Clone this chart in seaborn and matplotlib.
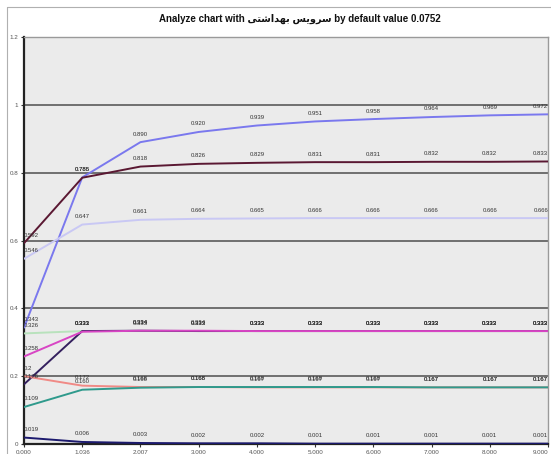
import matplotlib
matplotlib.use("Agg")
import matplotlib.pyplot as plt
import pandas as pd
import seaborn as sns

# x categories along the bottom axis
x_labels = ["0.000", "1.036", "2.007", "3.000", "4.000",
            "5.000", "6.000", "7.000", "8.000", "9.000"]

# series values
s_blue = [0.343, 0.786, 0.890, 0.920, 0.939, 0.951, 0.958, 0.964, 0.969, 0.972]
s_dark = [0.592, 0.785, 0.818, 0.826, 0.829, 0.831, 0.831, 0.832, 0.832, 0.833]
s_lav = [0.546, 0.647, 0.661, 0.664, 0.665, 0.666, 0.666, 0.666, 0.666, 0.666]
s_green = [0.326, 0.333, 0.333, 0.333, 0.333, 0.333, 0.333, 0.333, 0.333, 0.333]
s_purple = [0.176, 0.333, 0.334, 0.333, 0.333, 0.333, 0.333, 0.333, 0.333, 0.333]
s_pink = [0.258, 0.331, 0.334, 0.334, 0.333, 0.333, 0.333, 0.333, 0.333, 0.333]
s_salmon = [0.2, 0.172, 0.168, 0.168, 0.167, 0.167, 0.167, 0.167, 0.167, 0.167]
s_teal = [0.109, 0.160, 0.166, 0.168, 0.168, 0.168, 0.168, 0.167, 0.167, 0.167]
s_navy = [0.019, 0.006, 0.003, 0.002, 0.002, 0.001, 0.001, 0.001, 0.001, 0.001]

# drawing order: later ones end up on top
series = {
    "blue": s_blue, "dark": s_dark, "lav": s_lav, "green": s_green,
    "purple": s_purple, "pink": s_pink, "salmon": s_salmon,
    "teal": s_teal, "navy": s_navy,
}
colors = {
    "blue": "#7a78ee", "dark": "#5a1832", "lav": "#c9c8f4", "green": "#b8e2bc",
    "pink": "#d845c4", "purple": "#34205e", "salmon": "#f08a86",
    "teal": "#2f9a8c", "navy": "#1c1a6e",
}

rows = []
for name, vals in series.items():
    for i, v in enumerate(vals):
        rows.append({"x": i, "value": v, "series": name})
df = pd.DataFrame(rows)

sns.set_theme(style="white")
plt.rcParams["font.family"] = ["Liberation Sans", "DejaVu Sans"]

fig = plt.figure(figsize=(5.51, 4.54), dpi=100)
fig.patch.set_facecolor("white")
ax = fig.add_axes([24 / 551, 1 - 444 / 454, 524 / 551, 407 / 454])
ax.set_facecolor("#ebebeb")

# horizontal grid lines
for g in [0.2, 0.4, 0.6, 0.8, 1.0]:
    ax.axhline(g, color="#5a5a5a", lw=1.2, zorder=1)

sns.lineplot(data=df, x="x", y="value", hue="series", palette=colors,
             hue_order=list(series.keys()),
             linewidth=1.4, legend=False, ax=ax, zorder=3)

# data labels above each point
for name, vals in series.items():
    for i, v in enumerate(vals):
        ha = "left" if i == 0 else ("right" if i == len(vals) - 1 else "center")
        ax.annotate(f"{v:g}" if v == 0.2 else f"{v:.3f}", (i, v),
                    xytext=(0, 4), textcoords="offset points",
                    ha=ha, va="bottom", fontsize=4.3, color="#333333", zorder=4)

ax.set_xlim(0, 9)
ax.set_ylim(0, 1.2)
ax.set_xticks(range(len(x_labels)))
ax.set_xticklabels(x_labels)
ax.get_xticklabels()[-1].set_horizontalalignment("right")
ax.set_yticks([0, 0.2, 0.4, 0.6, 0.8, 1.0, 1.2])
ax.set_yticklabels(["0", "0.2", "0.4", "0.6", "0.8", "1", "1.2"])
ax.tick_params(axis="both", labelsize=4.5, labelcolor="#555555",
               length=2.5, width=0.8, color="#333333", pad=1.5,
               bottom=True, left=True)
ax.set_xlabel("")
ax.set_ylabel("")

for side in ["top", "right"]:
    ax.spines[side].set_color("#9a9a9a")
    ax.spines[side].set_linewidth(1.0)
for side in ["left", "bottom"]:
    ax.spines[side].set_color("#222222")
    ax.spines[side].set_linewidth(1.6)

# outer chart frame
fig.add_artist(plt.Line2D([7 / 551, 1], [1 - 7 / 454, 1 - 7 / 454],
                          transform=fig.transFigure, color="#b0b0b0", lw=0.8))
fig.add_artist(plt.Line2D([7 / 551, 7 / 551], [0, 1 - 7 / 454],
                          transform=fig.transFigure, color="#b0b0b0", lw=0.8))

# title (Persian part written in shaped presentation forms, visual order)
fa_text = "\uFBFD\uFE98\uFEB7\uFE8D\uFEAA\uFEEC\uFE91 \uFEB2\uFBFE\uFEED\uFEAE\uFEB3"
fig.text(0.545, 1 - 19 / 454, f"Analyze chart with {fa_text} by default value 0.0752",
         ha="center", va="center", fontsize=7, fontweight="bold",
         family=["Liberation Sans", "DejaVu Sans"], color="#111111")

fig.savefig("out.png", dpi=100, facecolor="white")
